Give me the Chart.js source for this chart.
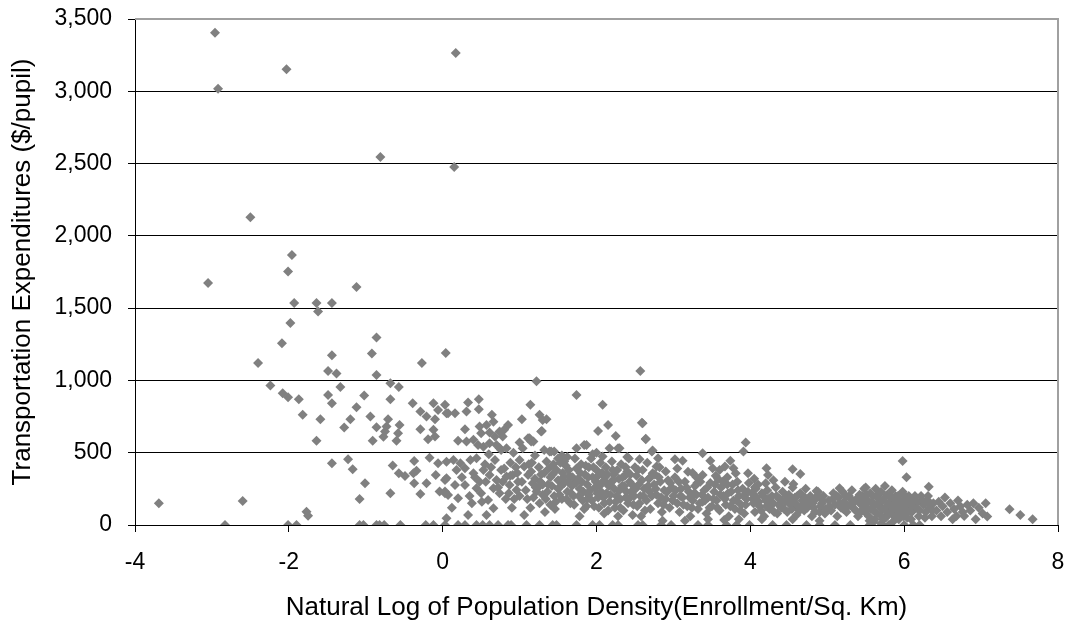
<!DOCTYPE html>
<html>
<head>
<meta charset="utf-8">
<script src="https://cdn.jsdelivr.net/npm/chart.js@4/dist/chart.umd.min.js"></script>
<style>
  html, body { margin: 0; padding: 0; background: #fff; }
  #wrap { width: 1070px; height: 626px; }
</style>
</head>
<body>
<div id="wrap"><canvas id="c" width="1070" height="626"></canvas></div>
<script>
// ---- Data: [ln(population density), $/pupil] ----
const highOutliers = [
  [-2.96,3405],[-2.92,3017],[-2.03,3153],[0.17,3264],[-0.81,2546],[0.15,2477],[-2.5,2128],
  [-3.05,1674],[-1.96,1868],[-2.01,1754],[-1.12,1646],[-1.93,1535],[-1.64,1535],[-1.62,1477],
  [-1.44,1535],[-1.98,1397],[-2.09,1258],[-0.86,1297],[-2.4,1120],[-1.44,1175],[-0.92,1186],
  [-0.27,1120],[0.04,1189],[1.22,995],[2.57,1065]
];
const leftSpread = [
  [-1.49,1066],[-1.38,1048],[-0.86,1037],[-2.24,965],[-2.08,912],[-2.01,884],[-1.87,870],[-1.49,900],
  [-1.44,843],[-1.33,954],[-1.82,762],[-1.59,732],[-1.64,582],[-1.28,674],[-1.2,732],[-1.12,815],
  [-1.02,896],[-0.94,750],[-0.86,676],[-0.91,582],[-0.68,981],[-0.57,954],[-0.68,870],[-0.71,732],
  [-0.73,681],[-0.75,646],[-0.77,611],[-0.56,692],[-0.58,635],[-0.6,582],[-0.39,843],[-0.29,785],
  [-0.21,750],[-0.12,843],[-0.06,796],[0.03,831],[0.05,773],[-0.1,732],[-0.29,663],[-0.12,658],
  [-0.19,593],[-0.1,612],[-1.44,427],[-1.23,455],[-1.17,386],[-1.01,289],[-1.08,180],[-0.68,219],
  [-0.65,411],[-0.57,358],[-0.49,339],[-0.37,443],[-0.34,376],[-0.38,358],[-0.37,289],[-0.21,289],
  [-0.29,215],[-0.17,466],[-0.06,427],[-0.09,346],[0.03,312],[-0.04,231],[0.03,219],[0.05,438],
  [-3.69,150],[-2.6,166],[-1.77,92],[-1.75,64],[0.05,46]
];
const zeroValues = [
  [-2.83,0],[-2.01,0],[-1.9,0],[-1.08,0],[-1.03,0],[-0.86,0],[-0.82,0],[-0.76,0],[-0.55,0],
  [-0.22,0],[-0.12,0],[0.03,0],[0.2,0],[0.29,0],[0.44,0],[0.52,0],[0.61,0],[0.72,0],[0.85,0],
  [0.89,0],[1.09,0],[1.26,0],[1.43,0],[1.48,0],[1.74,0],[1.95,0],[2.04,0],[2.21,0],[2.28,0],
  [2.54,0],[2.6,0],[2.84,0],[2.97,0],[3.32,0],[3.45,0],[3.69,0],[3.82,0],[3.99,0],[4.29,0],
  [4.47,0],[4.73,0],[4.9,0],[5.1,0],[5.3,0],[5.55,0],[5.72,0],[5.8,0],[6.0,0],[6.12,0],[6.2,0]
];
const nearZeroBand = [
  [0.47,870],[0.33,847],[0.31,785],[0.47,801],[0.07,773],[0.16,773],[0.64,762],[0.66,715],[0.57,692],
  [0.48,681],[0.85,692],[0.29,663],[0.5,635],[0.61,639],[0.68,612],[0.74,646],[0.78,612],[0.2,582],
  [0.31,577],[0.4,589],[0.46,554],[0.53,542],[0.61,566],[0.7,554],[0.76,519],[0.83,531],[0.74,533],
  [0.8,658],[0.14,450],[0.23,427],[0.36,450],[0.44,462],[0.18,381],[0.29,393],[0.4,358],[0.53,381],
  [0.05,323],[0.16,277],[0.03,231],[0.07,208],[0.2,185],[0.29,277],[0.44,254],[0.5,219],[0.61,346],
  [0.7,312],[0.76,381],[0.83,335],[0.91,346],[0.66,254],[0.74,219],[0.87,277],[0.96,242],[0.59,173],
  [0.66,115],[0.57,69],[0.33,69],[0.12,120],[0.38,150],[0.25,330],[0.48,300],[0.55,420],[0.68,450],
  [0.88,430],[0.95,400],[0.82,180],[0.9,120],[0.98,300],[0.35,200],[0.6,490],[0.92,500],
  [0.56,300],[0.63,400],[0.72,260],[0.8,390],[0.86,220],[0.93,180],[0.97,360],[0.42,330],[0.51,160],
  [0.78,300],[0.88,340],[1.0,200]
];
const coreUpper = [
  [1.14,831],[1.03,732],[1.26,762],[1.3,727],[1.35,732],[1.29,651],[1.13,600],[1.18,577],[1.0,570],
  [1.04,531],[1.32,519],[1.39,508],[1.45,508],[1.74,531],[1.87,554],[2.08,473],[2.17,531],[2.3,531],
  [2.56,455],[1.74,900],[2.08,831],[2.59,708],[2.64,596],[2.15,692],[2.02,651],[2.25,616],[1.28,646],
  [1.11,600],[1.15,577],[1.41,508],[2.28,531],[2.72,508],[1.84,554],[1.55,480],[1.62,470],[1.95,490],
  [2.4,470],[1.2,480],[1.5,460],[2.0,500]
];
const coreDense = [
  [1.0,450],[1.06,404],[1.11,346],[1.17,289],[1.22,231],[1.06,69],[1.26,150],
  [1.12,420],[1.15,370],[1.2,320],[1.25,400],[1.28,350],[1.3,280],[1.18,190],[1.24,260],[1.3,210],[1.14,120],[1.33,90],
  [1.35,440],[1.38,390],[1.4,330],[1.42,270],[1.36,230],[1.45,200],[1.48,380],[1.5,310],[1.4,140],[1.46,110],[1.5,250],
  [1.53,430],[1.56,360],[1.58,290],[1.6,410],[1.62,230],[1.65,340],[1.68,270],[1.55,180],[1.7,200],[1.66,150],[1.58,440],
  [1.72,460],[1.74,390],[1.76,320],[1.78,250],[1.8,420],[1.82,170],[1.85,350],[1.88,280],[1.9,210],[1.84,110],[1.78,60],[1.9,400],
  [1.93,460],[1.95,330],[1.98,260],[2.0,380],[2.02,190],[2.05,430],[2.08,300],[2.1,150],[1.97,130],[2.06,230],[2.1,80],
  [2.12,400],[2.14,350],[2.16,270],[2.18,210],[2.2,440],[2.22,310],[2.25,160],[2.27,380],[2.3,240],[2.15,100],[2.28,60],[2.24,120],
  [2.32,420],[2.34,330],[2.36,270],[2.38,190],[2.4,370],[2.43,300],[2.45,230],[2.48,140],[2.5,400],[2.35,100],[2.47,70],[2.42,460],
  [2.52,340],[2.55,280],[2.57,200],[2.6,380],[2.62,250],[2.65,170],[2.68,320],[2.7,110],[2.53,130],[2.66,430],[2.58,60],[2.69,230],
  [2.22,350],[2.38,400],[2.13,290],[2.44,190],[2.31,120],[2.02,340],[1.88,180],[1.63,300]
];
const coreExtra = [
  [1.03,300],[1.08,240],[1.1,180],[1.16,430],[1.21,260],[1.27,300],[1.32,360],[1.34,180],[1.37,280],
  [1.43,350],[1.44,420],[1.47,160],[1.52,210],[1.54,270],[1.57,330],[1.61,180],[1.64,380],[1.67,220],
  [1.69,330],[1.71,140],[1.73,290],[1.77,200],[1.79,360],[1.81,300],[1.83,230],[1.86,410],[1.87,130],
  [1.89,330],[1.92,240],[1.94,170],[1.96,400],[1.99,300],[2.01,220],[2.03,120],[2.04,270],[2.07,360],
  [2.09,190],[2.11,330],[2.13,220],[2.17,160],[2.19,300],[2.21,380],[2.23,250],[2.26,200],[2.29,320],
  [2.31,180],[2.33,270],[2.37,340],[2.39,230],[2.41,150],[2.44,350],[2.46,280],[2.49,200],[2.51,250],
  [2.54,380],[2.56,150],[2.59,310],[2.61,200],[2.63,100],[2.67,270]
];
const midUpper = [
  [2.6,704],[2.64,593],[2.73,515],[3.94,570],[3.91,508],[3.38,496],[2.8,462],[2.78,404],[2.73,358],
  [2.69,323],[3.02,455],[3.12,445],[3.19,369],[3.48,445],[3.51,393],[3.38,346],[3.67,404],[3.74,445],
  [3.78,393],[3.81,358],[3.97,358],[4.21,393],[4.23,346],[4.2,289],[4.06,261],[4.55,386],[4.65,353],
  [4.56,284],[4.86,235],[5.16,254]
];
const midCloud = [
  [2.75,280],[2.78,210],[2.8,150],[2.83,300],[2.85,90],[2.88,240],[2.9,180],[2.93,310],[2.95,120],
  [2.98,260],[3.0,200],[3.02,330],[3.05,150],[3.08,90],[3.1,250],[3.12,190],[3.15,300],[3.18,130],
  [3.2,230],[3.22,60],[3.25,170],[3.28,270],[3.3,210],[3.32,110],[3.35,300],[3.38,160],[3.4,240],
  [3.43,80],[3.45,190],[3.48,290],[3.5,130],[3.53,230],[3.56,170],[3.58,320],[3.6,100],[3.62,260],
  [3.65,200],[3.68,140],[3.7,280],[3.72,60],[3.75,230],[3.78,170],[3.8,110],[3.83,300],[3.85,200],
  [3.88,140],[3.9,250],[3.92,80],[3.95,180],[3.98,290],[2.76,350],[2.9,370],[3.05,390],[3.25,360],
  [3.3,330],[3.55,340],[3.7,330],[2.86,30],[3.15,30],[3.45,40],[3.66,35],[3.85,40],[2.82,400],[3.6,380],
  [2.72,200],[2.77,250],[2.81,330],[2.84,190],[2.87,140],[2.92,230],[2.96,290],[2.99,170],[3.03,240],
  [3.07,300],[3.09,200],[3.13,140],[3.17,260],[3.21,190],[3.24,120],[3.27,220],[3.31,290],[3.34,150],
  [3.37,210],[3.41,170],[3.44,260],[3.47,120],[3.52,180],[3.54,280],[3.57,120],[3.61,210],[3.64,300],
  [3.67,180],[3.71,220],[3.74,130],[3.77,280],[3.82,170],[3.84,240],[3.87,100],[3.91,200],[3.94,140],[3.97,230]
];
const eastCloud = [
  [4.02,220],[4.04,150],[4.06,90],[4.08,190],[4.1,280],[4.12,130],[4.15,220],[4.18,60],[4.2,170],
  [4.22,240],[4.25,110],[4.28,200],[4.3,150],[4.33,260],[4.35,80],[4.38,180],[4.4,120],[4.42,230],
  [4.45,160],[4.48,90],[4.5,210],[4.52,140],[4.55,260],[4.58,190],[4.6,70],[4.62,130],[4.65,220],
  [4.68,170],[4.7,100],[4.72,250],[4.75,150],[4.78,200],[4.8,60],[4.82,120],[4.85,180],[4.88,230],
  [4.9,90],[4.93,150],[4.95,200],[4.98,110],[4.05,320],[4.3,310],[4.45,300],[4.15,40],[4.55,40],[4.9,30],
  [4.03,180],[4.07,250],[4.11,160],[4.14,100],[4.17,200],[4.21,130],[4.24,180],[4.27,140],[4.31,90],
  [4.34,200],[4.37,140],[4.41,170],[4.44,110],[4.47,200],[4.51,170],[4.54,110],[4.57,160],[4.61,200],
  [4.64,100],[4.67,140],[4.71,190],[4.74,120],[4.77,170],[4.81,150],[4.84,90],[4.87,200],[4.91,130],
  [4.94,170],[4.97,80]
];
const farCloud = [
  [5.02,170],[5.05,100],[5.08,220],[5.1,140],[5.13,60],[5.15,190],[5.18,120],[5.2,230],[5.22,160],
  [5.25,90],[5.28,200],[5.3,140],[5.32,240],[5.35,110],[5.38,180],[5.4,60],[5.42,210],[5.44,140],
  [5.46,100],[5.48,250],[5.5,180],[5.52,120],[5.54,60],[5.56,220],[5.58,160],[5.6,100],[5.62,40],
  [5.63,250],[5.65,190],[5.67,130],[5.69,70],[5.7,230],[5.72,170],[5.74,110],[5.76,50],[5.78,210],
  [5.8,150],[5.82,90],[5.84,240],[5.86,180],[5.88,120],[5.9,60],[5.92,200],[5.94,140],[5.96,80],
  [5.98,230],[6.0,170],[6.02,110],[6.04,50],[6.06,200],[6.08,140],[6.1,90],[6.13,180],[6.16,120],
  [6.19,60],[6.22,200],[6.25,140],[6.28,90],[6.3,170],[6.33,120],[6.36,60],[6.38,150],[5.98,443],
  [6.03,330],[6.32,265],[5.5,260],[5.75,270],[5.6,20],[5.85,20],[5.7,10],
  [5.03,130],[5.07,180],[5.12,200],[5.16,150],[5.21,110],[5.24,200],[5.27,130],[5.31,180],[5.34,150],
  [5.37,100],[5.41,170],[5.43,90],[5.45,200],[5.47,150],[5.49,90],[5.51,210],[5.53,160],[5.55,30],
  [5.57,110],[5.59,200],[5.61,140],[5.64,80],[5.66,210],[5.68,160],[5.71,110],[5.73,40],[5.75,190],
  [5.77,130],[5.79,80],[5.81,200],[5.83,130],[5.85,70],[5.87,150],[5.89,200],[5.91,100],[5.93,40],
  [5.95,170],[5.97,120],[5.99,60],[6.01,200],[6.03,140],[6.05,90],[6.07,160],[6.09,40],[6.11,130],
  [6.14,200],[6.17,160],[6.2,100],[6.24,170],[6.27,50],[6.31,200],[6.34,150],[6.37,100]
];
const tailPoints = [
  [6.42,100],[6.45,160],[6.48,60],[6.5,130],[6.53,190],[6.56,90],[6.6,150],[6.63,40],[6.65,110],
  [6.68,62],[6.7,170],[6.73,130],[6.76,90],[6.78,62],[6.82,140],[6.86,100],[6.9,150],[6.93,40],
  [6.97,120],[7.02,80],[7.06,150],[7.08,58],[7.37,109],[7.51,69],[7.67,40]
];

const xTicks = [-4, -2, 0, 2, 4, 6, 8];
const yTicks = [0, 500, 1000, 1500, 2000, 2500, 3000, 3500];
const xTitle = 'Natural Log of Population Density(Enrollment/Sq. Km)';
const yTitle = 'Transportation Expenditures ($/pupil)';

const allPoints = [].concat(highOutliers, leftSpread, zeroValues, nearZeroBand, coreUpper,
  coreDense, coreExtra, midUpper, midCloud, eastCloud, farCloud, tailPoints).map(p => ({x: p[0], y: p[1]}));

const FONT = 'Arial, "Liberation Sans", sans-serif';

const frame = {
  id: 'frame',
  beforeDatasetsDraw(chart) {
    const {ctx, chartArea: a} = chart;
    ctx.save();
    ctx.strokeStyle = '#a0a0a0';
    ctx.lineWidth = 2;
    ctx.beginPath();
    ctx.moveTo(a.left, a.top);
    ctx.lineTo(a.right, a.top);
    ctx.lineTo(a.right, a.bottom);
    ctx.stroke();
    ctx.restore();
  }
};

new Chart(document.getElementById('c'), {
  type: 'scatter',
  data: {
    datasets: [{
      data: allPoints,
      pointStyle: 'rectRot',
      pointRadius: 5,
      pointHoverRadius: 5,
      backgroundColor: '#808080',
      borderColor: '#808080',
      borderWidth: 0
    }]
  },
  options: {
    responsive: false,
    animation: false,
    devicePixelRatio: 1,
    layout: { padding: { top: 19, right: 12, left: 0, bottom: 0 } },
    plugins: { legend: { display: false }, tooltip: { enabled: false } },
    scales: {
      x: {
        type: 'linear',
        min: -4, max: 8,
        afterBuildTicks: s => { s.ticks = xTicks.map(v => ({value: v})); },
        afterFit: s => { s.height = 101; s.paddingLeft = 0; s.paddingRight = 0; },
        grid: { display: true, drawOnChartArea: false, drawTicks: true, tickLength: 7, color: '#000', tickColor: '#000' },
        border: { display: true, color: '#000', width: 1 },
        ticks: { color: '#000', font: { family: FONT, size: 23 }, padding: 17, maxRotation: 0 },
        title: { display: true, text: xTitle, color: '#000', font: { family: FONT, size: 26 }, padding: { top: 0, bottom: 3 } }
      },
      y: {
        type: 'linear',
        min: 0, max: 3500,
        afterBuildTicks: s => { s.ticks = yTicks.map(v => ({value: v})); },
        afterFit: s => { s.width = 135; s.paddingTop = 0; s.paddingBottom = 0; },
        grid: {
          color: c => (c.tick && c.tick.value === 3500) ? 'rgba(0,0,0,0)' : '#000',
          tickColor: '#000', tickLength: 7, drawTicks: true, lineWidth: 1
        },
        border: { display: true, color: '#000', width: 1 },
        ticks: { color: '#000', font: { family: FONT, size: 23 }, padding: 16,
          callback: v => Number(v).toLocaleString('en-US') },
        title: { display: true, text: yTitle, color: '#000', font: { family: FONT, size: 26 }, padding: { top: 7, bottom: 0 } }
      }
    }
  },
  plugins: [frame]
});
</script>
</body>
</html>
